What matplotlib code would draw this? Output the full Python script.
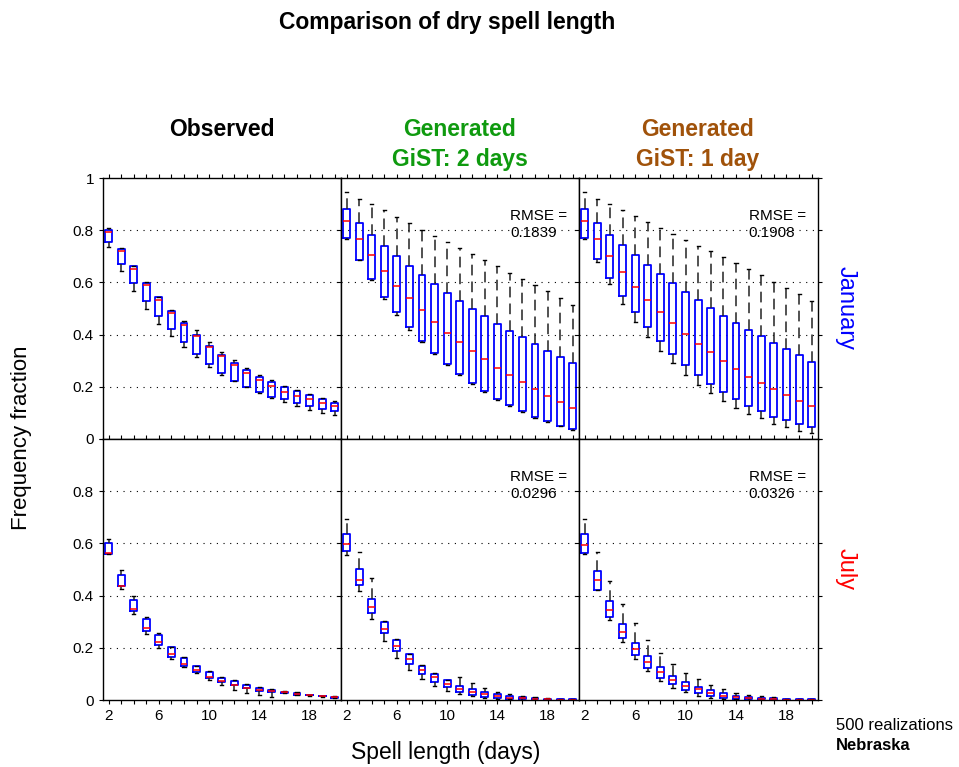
import matplotlib
matplotlib.use("Agg")
import matplotlib.pyplot as plt
import numpy as np

plt.rcParams['font.family'] = ['Liberation Sans', 'DejaVu Sans']

spell = list(range(2, 21))

# ---- January, observed: (lo, q1, med, q3, hi)
obs_jan_lo  = [0.734, 0.644, 0.567, 0.498, 0.441, 0.396, 0.352, 0.313, 0.275, 0.245, 0.222, 0.198, 0.175, 0.157, 0.140, 0.125, 0.111, 0.100, 0.092]
obs_jan_q1  = [0.756, 0.669, 0.596, 0.530, 0.471, 0.420, 0.373, 0.327, 0.286, 0.252, 0.222, 0.198, 0.181, 0.162, 0.152, 0.139, 0.125, 0.114, 0.106]
obs_jan_med = [0.795, 0.720, 0.651, 0.590, 0.532, 0.481, 0.435, 0.396, 0.353, 0.317, 0.285, 0.254, 0.227, 0.202, 0.181, 0.165, 0.152, 0.138, 0.125]
obs_jan_q3  = [0.801, 0.729, 0.662, 0.599, 0.543, 0.492, 0.443, 0.398, 0.358, 0.323, 0.290, 0.264, 0.236, 0.217, 0.198, 0.183, 0.169, 0.153, 0.137]
obs_jan_hi  = [0.807, 0.731, 0.664, 0.601, 0.545, 0.494, 0.452, 0.417, 0.373, 0.335, 0.301, 0.273, 0.246, 0.225, 0.203, 0.186, 0.171, 0.157, 0.144]

# ---- January, generated GiST 2 days
g2_jan_lo  = [0.767, 0.684, 0.609, 0.536, 0.475, 0.419, 0.372, 0.327, 0.285, 0.246, 0.210, 0.181, 0.151, 0.126, 0.104, 0.082, 0.066, 0.048, 0.036]
g2_jan_q1  = [0.770, 0.686, 0.613, 0.545, 0.485, 0.430, 0.374, 0.330, 0.287, 0.249, 0.213, 0.184, 0.154, 0.129, 0.107, 0.085, 0.069, 0.051, 0.039]
g2_jan_med = [0.834, 0.766, 0.704, 0.645, 0.586, 0.539, 0.493, 0.449, 0.408, 0.372, 0.337, 0.305, 0.273, 0.245, 0.217, 0.190, 0.166, 0.142, 0.120]
g2_jan_q3  = [0.880, 0.826, 0.780, 0.740, 0.701, 0.662, 0.627, 0.593, 0.559, 0.527, 0.498, 0.470, 0.442, 0.415, 0.389, 0.364, 0.339, 0.315, 0.292]
g2_jan_hi  = [0.945, 0.921, 0.902, 0.876, 0.851, 0.828, 0.802, 0.778, 0.753, 0.730, 0.709, 0.686, 0.662, 0.637, 0.613, 0.589, 0.566, 0.541, 0.513]

# ---- January, generated GiST 1 day
g1_jan_lo  = [0.767, 0.677, 0.592, 0.516, 0.448, 0.392, 0.336, 0.290, 0.247, 0.207, 0.175, 0.147, 0.120, 0.095, 0.079, 0.057, 0.046, 0.031, 0.022]
g1_jan_q1  = [0.772, 0.691, 0.616, 0.549, 0.487, 0.431, 0.376, 0.327, 0.282, 0.247, 0.211, 0.180, 0.152, 0.126, 0.106, 0.085, 0.071, 0.056, 0.046]
g1_jan_med = [0.834, 0.765, 0.701, 0.641, 0.584, 0.534, 0.487, 0.443, 0.402, 0.365, 0.332, 0.297, 0.268, 0.238, 0.215, 0.190, 0.167, 0.145, 0.126]
g1_jan_q3  = [0.880, 0.826, 0.783, 0.743, 0.704, 0.668, 0.631, 0.597, 0.562, 0.531, 0.501, 0.472, 0.444, 0.417, 0.393, 0.369, 0.343, 0.320, 0.296]
g1_jan_hi  = [0.946, 0.921, 0.900, 0.879, 0.856, 0.833, 0.808, 0.784, 0.761, 0.741, 0.719, 0.696, 0.673, 0.650, 0.627, 0.603, 0.580, 0.554, 0.530]

# ---- July, observed
obs_jul_lo  = [0.558, 0.426, 0.328, 0.253, 0.198, 0.157, 0.125, 0.104, 0.077, 0.056, 0.040, 0.026, 0.019, 0.011, 0.026, 0.018, 0.017, 0.013, 0.008]
obs_jul_q1  = [0.558, 0.437, 0.342, 0.266, 0.211, 0.166, 0.131, 0.106, 0.085, 0.069, 0.057, 0.045, 0.036, 0.031, 0.027, 0.019, 0.018, 0.014, 0.009]
obs_jul_med = [0.565, 0.438, 0.347, 0.277, 0.222, 0.177, 0.139, 0.114, 0.088, 0.071, 0.059, 0.046, 0.038, 0.033, 0.030, 0.023, 0.019, 0.015, 0.011]
obs_jul_q3  = [0.603, 0.480, 0.383, 0.309, 0.249, 0.202, 0.162, 0.130, 0.107, 0.085, 0.073, 0.057, 0.046, 0.038, 0.032, 0.026, 0.020, 0.016, 0.013]
obs_jul_hi  = [0.615, 0.497, 0.400, 0.319, 0.255, 0.204, 0.164, 0.132, 0.111, 0.089, 0.076, 0.061, 0.049, 0.042, 0.033, 0.030, 0.021, 0.017, 0.014]

# ---- July, generated GiST 2 days
g2_jul_lo  = [0.556, 0.416, 0.310, 0.226, 0.161, 0.115, 0.080, 0.054, 0.036, 0.022, 0.015, 0.008, 0.004, 0.002, 0.001, 0.001, 0.000, 0.000, 0.000]
g2_jul_q1  = [0.571, 0.439, 0.335, 0.256, 0.188, 0.138, 0.099, 0.070, 0.049, 0.031, 0.019, 0.013, 0.008, 0.004, 0.003, 0.002, 0.001, 0.000, 0.000]
g2_jul_med = [0.597, 0.461, 0.355, 0.273, 0.207, 0.157, 0.116, 0.088, 0.063, 0.044, 0.031, 0.023, 0.015, 0.009, 0.007, 0.004, 0.002, 0.001, 0.001]
g2_jul_q3  = [0.637, 0.503, 0.387, 0.299, 0.230, 0.175, 0.131, 0.100, 0.075, 0.055, 0.041, 0.031, 0.023, 0.017, 0.012, 0.008, 0.005, 0.003, 0.002]
g2_jul_hi  = [0.693, 0.568, 0.468, 0.301, 0.232, 0.177, 0.133, 0.102, 0.077, 0.087, 0.064, 0.045, 0.032, 0.022, 0.015, 0.010, 0.007, 0.004, 0.003]

# ---- July, generated GiST 1 day
g1_jul_lo  = [0.559, 0.420, 0.308, 0.222, 0.157, 0.110, 0.073, 0.045, 0.029, 0.017, 0.009, 0.005, 0.002, 0.001, 0.000, 0.000, 0.000, 0.000, 0.000]
g1_jul_q1  = [0.565, 0.420, 0.319, 0.237, 0.173, 0.121, 0.084, 0.060, 0.038, 0.026, 0.017, 0.009, 0.005, 0.003, 0.002, 0.001, 0.000, 0.000, 0.000]
g1_jul_med = [0.595, 0.459, 0.346, 0.261, 0.194, 0.144, 0.106, 0.077, 0.054, 0.041, 0.027, 0.017, 0.011, 0.007, 0.004, 0.003, 0.001, 0.001, 0.001]
g1_jul_q3  = [0.636, 0.496, 0.381, 0.291, 0.220, 0.167, 0.125, 0.093, 0.068, 0.050, 0.037, 0.026, 0.017, 0.011, 0.008, 0.006, 0.003, 0.002, 0.002]
g1_jul_hi  = [0.693, 0.566, 0.457, 0.369, 0.294, 0.230, 0.179, 0.137, 0.105, 0.079, 0.056, 0.041, 0.028, 0.018, 0.014, 0.011, 0.005, 0.003, 0.003]

rmse_text = [[None, "0.1839", "0.1908"], [None, "0.0296", "0.0326"]]

col_titles = ["Observed", "Generated\nGiST: 2 days", "Generated\nGiST: 1 day"]
col_colors = ["black", "#0f9a0f", "#a0520a"]
row_labels = ["January", "July"]
row_colors = ["blue", "red"]

panels = [
    [(obs_jan_lo, obs_jan_q1, obs_jan_med, obs_jan_q3, obs_jan_hi),
     (g2_jan_lo, g2_jan_q1, g2_jan_med, g2_jan_q3, g2_jan_hi),
     (g1_jan_lo, g1_jan_q1, g1_jan_med, g1_jan_q3, g1_jan_hi)],
    [(obs_jul_lo, obs_jul_q1, obs_jul_med, obs_jul_q3, obs_jul_hi),
     (g2_jul_lo, g2_jul_q1, g2_jul_med, g2_jul_q3, g2_jul_hi),
     (g1_jul_lo, g1_jul_q1, g1_jul_med, g1_jul_q3, g1_jul_hi)],
]


def make_stats(lo, q1, med, q3, hi):
    stats = []
    for i in range(len(med)):
        stats.append({'whislo': lo[i], 'q1': q1[i], 'med': med[i],
                      'q3': q3[i], 'whishi': hi[i], 'fliers': []})
    return stats


fig = plt.figure(figsize=(9.59, 7.67), dpi=100)
W, H = 959.0, 767.0
lefts = [103, 341, 579]
widths = [238, 238, 239]
tops = [178, 439]
ph = 261
col_centers = [222, 460, 698]

for r in range(2):
    for c in range(3):
        ax = fig.add_axes([lefts[c] / W, 1 - (tops[r] + ph) / H, widths[c] / W, ph / H])
        lo, q1, med, q3, hi = panels[r][c]
        ax.bxp(make_stats(lo, q1, med, q3, hi), positions=spell, widths=0.55,
               showfliers=False, capwidths=0.25, manage_ticks=False,
               boxprops=dict(color='blue', linewidth=1.3),
               medianprops=dict(color='red', linewidth=1.1),
               whiskerprops=dict(color='#222222', linewidth=1.1, linestyle=(0, (7, 4))),
               capprops=dict(color='black', linewidth=1.0))
        ax.set_xlim(1.55, 20.5)
        ax.set_ylim(0, 1)
        ax.set_xticks([2, 6, 10, 14, 18])
        ax.set_xticks(spell, minor=True)
        ax.set_yticks([0, 0.2, 0.4, 0.6, 0.8, 1.0])
        for y in [0.2, 0.4, 0.6, 0.8]:
            ax.axhline(y, color='black', linestyle=(0, (1, 5)), linewidth=0.8, zorder=0)
        ax.tick_params(which='both', direction='out', top=True, right=(c == 2),
                       labelsize=11, length=3, width=0.8)
        if r == 0:
            ax.set_xticklabels([])
        else:
            ax.set_xticklabels(["2", "6", "10", "14", "18"])
        if c == 0:
            labs = ["0", "0.2", "0.4", "0.6", "0.8", "1" if r == 0 else ""]
            ax.set_yticklabels(labs)
        else:
            ax.set_yticklabels([])
        if rmse_text[r][c]:
            ax.text(0.71, 0.88, "RMSE =\n" + rmse_text[r][c], transform=ax.transAxes,
                    fontsize=11, va='top', ha='left')
        if c == 2:
            ax.text(1.115, 0.5, row_labels[r], transform=ax.transAxes, rotation=-90,
                    color=row_colors[r], fontsize=17, va='center', ha='center')
        for s in ax.spines.values():
            s.set_linewidth(1.0)

for c in range(3):
    fig.text(col_centers[c] / W, 1 - 118 / H, col_titles[c], color=col_colors[c],
             fontsize=16.5, fontweight='bold', ha='center', va='top', linespacing=1.4)

fig.text(447 / W, 1 - 22 / H, "Comparison of dry spell length", fontsize=16.5,
         fontweight='bold', ha='center', va='center')
fig.text(22 / W, 1 - 438 / H, "Frequency fraction", fontsize=16, rotation=90,
         ha='center', va='center')
fig.text(446 / W, 1 - 752 / H, "Spell length (days)", fontsize=16.5, ha='center', va='center')
fig.text(836 / W, 1 - 726 / H, "500 realizations", fontsize=12, ha='left', va='center')
fig.text(836 / W, 1 - 745 / H, "Nebraska", fontsize=12, fontweight='bold', ha='left', va='center')

fig.savefig("out.png", dpi=100)
